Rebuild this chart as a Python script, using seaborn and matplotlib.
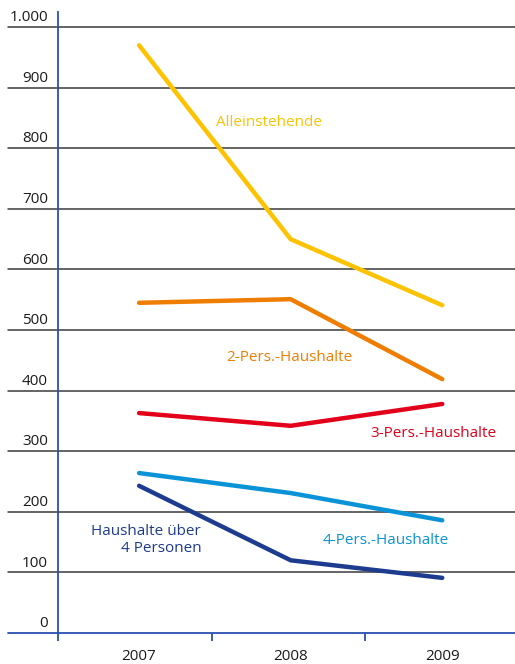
import matplotlib
matplotlib.use("Agg")
import matplotlib.pyplot as plt
import seaborn as sns
import pandas as pd

# Household counts by household size, 2007-2009
years = ["2007", "2008", "2009"]
alleinstehende = [970, 650, 541]
pers2 = [545, 551, 419]
pers3 = [363, 342, 378]
pers4 = [264, 231, 186]
ueber4 = [243, 120, 91]

series_names = ["Alleinstehende", "2-Pers.-Haushalte", "3-Pers.-Haushalte",
                "4-Pers.-Haushalte", "Haushalte über\n4 Personen"]
series_values = [alleinstehende, pers2, pers3, pers4, ueber4]
colors = ["#FDC300", "#EE7D00", "#E2001A", "#0A93D6", "#1D3C8F"]

y_ticks = [0, 100, 200, 300, 400, 500, 600, 700, 800, 900, 1000]
y_labels = ["0", "100", "200", "300", "400", "500", "600", "700", "800", "900", "1.000"]

rows = []
for name, vals in zip(series_names, series_values):
    for i, v in enumerate(vals):
        rows.append({"pos": i, "Jahr": years[i], "Haushalte": v, "Typ": name})
df = pd.DataFrame(rows)

sns.set_theme(style="white")
plt.rcParams["font.family"] = ["Open Sans", "DejaVu Sans"]

FS = 11
axis_blue = "#2750B0"
W, H = 515, 664
fig = plt.figure(figsize=(W / 100, H / 100), dpi=100)
ax = fig.add_axes([58 / W, 1 - 633 / H, (W - 58) / W, (633 - 12) / H])

# Horizontal grid lines reaching out past the axis into the label column
left_ext = -(58 - 8) / (W - 58)
for t in y_ticks[1:]:
    ax.plot([left_ext, 1], [t, t], transform=ax.get_yaxis_transform(),
            color="#3a3a3a", lw=1.1, clip_on=False, zorder=1)
ax.plot([left_ext, 1], [0, 0], transform=ax.get_yaxis_transform(),
        color=axis_blue, lw=1.3, clip_on=False, zorder=3)

sns.lineplot(data=df, x="pos", y="Haushalte", hue="Typ", palette=colors,
             linewidth=3.2, legend=False, ax=ax, zorder=4)

x_left, x_right = -0.535, 2.48
ax.set_xlim(x_left, x_right)
ax.set_ylim(0, 1025)

for s in ["top", "right", "bottom"]:
    ax.spines[s].set_visible(False)
ax.spines["left"].set_color(axis_blue)
ax.spines["left"].set_linewidth(1.3)
ax.spines["left"].set_zorder(5)

# Year separators as major ticks, year names centred as minor ticks
ax.set_xticks([x_left, 0.48, 1.49])
ax.set_xticklabels([])
ax.set_xticks([0, 1, 2], minor=True)
ax.set_xticklabels(years, minor=True, fontsize=FS, color="#1a1a1a")
ax.tick_params(axis="x", which="major", direction="out", length=5.5,
               width=1.3, color=axis_blue, bottom=True)
ax.tick_params(axis="x", which="minor", length=0, pad=11.5)
ax.set_yticks([])
ax.set_xlabel("")
ax.set_ylabel("")

# Value labels sit just above their grid lines, right-aligned in the margin
for t, lab in zip(y_ticks, y_labels):
    ax.text(-10 / (W - 58), t + 3, lab, transform=ax.get_yaxis_transform(),
            ha="right", va="bottom", fontsize=FS, color="#1a1a1a",
            clip_on=False)

# Series labels
ax.text(0.86, 843, series_names[0], color=colors[0], fontsize=FS,
        ha="center", va="center")
ax.text(0.99, 455, series_names[1], color=colors[1], fontsize=FS,
        ha="center", va="center")
ax.text(1.94, 330, series_names[2], color=colors[2], fontsize=FS,
        ha="center", va="center")
ax.text(1.63, 153, series_names[3], color=colors[3], fontsize=FS,
        ha="center", va="center")
ax.text(0.41, 153, series_names[4], color=colors[4], fontsize=FS,
        ha="right", va="center", multialignment="right", linespacing=1.2)

fig.savefig("out.png", dpi=100)
